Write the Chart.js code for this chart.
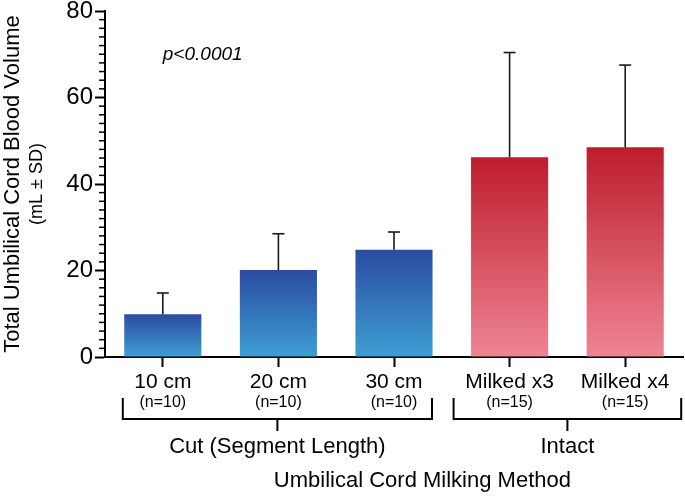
<!DOCTYPE html>
<html>
<head>
<meta charset="utf-8">
<script src="https://cdn.jsdelivr.net/npm/chart.js@4.4.1/dist/chart.umd.min.js"></script>
<style>
  html, body { margin: 0; padding: 0; background: #fff; }
  #wrap { width: 685px; height: 496px; position: relative; }
</style>
</head>
<body>
<div id="wrap"><canvas id="volume"></canvas></div>
<script>
// values
var categories = ['10 cm', '20 cm', '30 cm', 'Milked x3', 'Milked x4'];
var sampleSizes = ['(n=10)', '(n=10)', '(n=10)', '(n=15)', '(n=15)'];
var meanVolume = [9.9, 20.1, 24.8, 46.2, 48.5];
var sdVolume = [4.9, 8.4, 4.1, 24.2, 19.0];
var groupNames = ['Cut (Segment Length)', 'Intact'];
var groupFirst = [0, 3];
var groupLast = [2, 4];
var barGroup = [0, 0, 0, 1, 1];
var yMax = 80, yStep = 20, yMinorStep = 2;
var pValueText = 'p<0.0001';
var pValueAt = 70;

var FONT = "'Liberation Sans', Arial, Helvetica, sans-serif";
var gradColors = [['#2b4ba2', '#3d9fd3'], ['#bd1d2d', '#ef8593']];
// how far each bracket reaches past its outer category centres (px)
var bracketReach = [[40, 38], [56, 56]];

function barFill(context) {
    var chart = context.chart;
    if (!chart.chartArea || !chart.scales.y) return gradColors[barGroup[context.dataIndex]][0];
    var y = chart.scales.y;
    var top = y.getPixelForValue(context.raw);
    var bottom = y.getPixelForValue(0);
    var g = chart.ctx.createLinearGradient(0, top, 0, bottom);
    var c = gradColors[barGroup[context.dataIndex]];
    g.addColorStop(0, c[0]);
    g.addColorStop(1, c[1]);
    return g;
}

function line(ctx, x1, y1, x2, y2) {
    ctx.beginPath();
    ctx.moveTo(x1, y1);
    ctx.lineTo(x2, y2);
    ctx.stroke();
}

var extras = {
    id: 'extras',
    afterDatasetsDraw: function (chart) {
        var ctx = chart.ctx, y = chart.scales.y;
        var meta = chart.getDatasetMeta(0);
        ctx.save();
        ctx.strokeStyle = '#1a1a1a';
        ctx.lineWidth = 1.6;
        for (var i = 0; i < meta.data.length; i++) {
            var bar = meta.data[i];
            var top = y.getPixelForValue(meanVolume[i] + sdVolume[i]);
            line(ctx, bar.x, bar.y, bar.x, top);
            line(ctx, bar.x - 6, top, bar.x + 6, top);
        }
        ctx.restore();
    },
    afterDraw: function (chart) {
        var ctx = chart.ctx, x = chart.scales.x, y = chart.scales.y;
        var area = chart.chartArea;
        ctx.save();
        ctx.fillStyle = '#000';
        ctx.strokeStyle = '#000';

        // minor ticks on the y axis
        ctx.lineWidth = 1.5;
        for (var v = 0; v <= yMax; v += yMinorStep) {
            if (v % yStep === 0) continue;
            var py = y.getPixelForValue(v);
            line(ctx, area.left - 6, py, area.left, py);
        }

        // second line of the y title
        ctx.save();
        ctx.translate(37, (area.top + area.bottom) / 2);
        ctx.rotate(-Math.PI / 2);
        ctx.font = '18px ' + FONT;
        ctx.textAlign = 'center';
        ctx.textBaseline = 'middle';
        ctx.fillText('(mL \u00b1 SD)', 0, 0);
        ctx.restore();

        // p value
        ctx.font = 'italic 19px ' + FONT;
        ctx.textAlign = 'left';
        ctx.textBaseline = 'middle';
        ctx.fillText(pValueText, x.getPixelForValue(0), y.getPixelForValue(pValueAt));

        // sample sizes
        ctx.font = '16px ' + FONT;
        ctx.textAlign = 'center';
        for (var i = 0; i < categories.length; i++) {
            ctx.fillText(sampleSizes[i], x.getPixelForValue(i), area.bottom + 46);
        }

        // group brackets
        ctx.lineWidth = 2;
        var mids = [];
        for (var g = 0; g < groupNames.length; g++) {
            var l = x.getPixelForValue(groupFirst[g]) - bracketReach[g][0];
            var r = x.getPixelForValue(groupLast[g]) + bracketReach[g][1];
            var yTop = area.bottom + 41, yBot = area.bottom + 62;
            ctx.beginPath();
            ctx.moveTo(l, yTop);
            ctx.lineTo(l, yBot);
            ctx.lineTo(r, yBot);
            ctx.lineTo(r, yTop);
            ctx.stroke();
            var mid = (l + r) / 2;
            mids.push(mid);
            line(ctx, mid, yBot, mid, yBot + 12);
            ctx.font = '22px ' + FONT;
            ctx.fillText(groupNames[g], mid, area.bottom + 90);
        }

        // x axis title, centred between the two groups
        ctx.font = '22px ' + FONT;
        ctx.fillText('Umbilical Cord Milking Method', (mids[0] + mids[1]) / 2, area.bottom + 124);
        ctx.restore();
    }
};

var ctx = document.getElementById('volume');
var myChart = new Chart(ctx, {
    type: 'bar',
    data: {
        labels: categories,
        datasets: [{
            label: 'Total umbilical cord blood volume',
            data: meanVolume,
            backgroundColor: barFill,
            borderWidth: 0,
            barPercentage: 0.667,
            categoryPercentage: 1.0
        }]
    },
    options: {
        responsive: true,
        maintainAspectRatio: false,
        animation: false,
        devicePixelRatio: 1,
        layout: { padding: { top: 0, right: 2, left: 0, bottom: 0 } },
        plugins: {
            legend: { display: false },
            tooltip: { enabled: false }
        },
        scales: {
            x: {
                grid: {
                    offset: false,
                    drawOnChartArea: false,
                    tickLength: 10,
                    tickWidth: 2,
                    tickColor: '#000'
                },
                border: { color: '#000', width: 2 },
                ticks: {
                    color: '#000',
                    font: { family: FONT, size: 21 },
                    padding: 3,
                    autoSkip: false,
                    maxRotation: 0
                },
                afterFit: function (scale) {
                    scale.height = 139;
                }
            },
            y: {
                min: 0,
                max: yMax,
                grid: {
                    drawOnChartArea: false,
                    tickLength: 10,
                    tickWidth: 2,
                    tickColor: '#000'
                },
                border: { color: '#000', width: 2 },
                ticks: {
                    stepSize: yStep,
                    color: '#000',
                    padding: 2,
                    font: { family: FONT, size: 24, lineHeight: 1 }
                },
                title: {
                    display: true,
                    text: 'Total Umbilical Cord Blood Volume',
                    color: '#000',
                    font: { family: FONT, size: 22 },
                    padding: { top: 0, bottom: 0 }
                },
                afterFit: function (scale) {
                    scale.width = 105;
                    scale.paddingTop = 11;
                    scale.paddingBottom = 0;
                }
            }
        }
    },
    plugins: [extras]
});
</script>
</body>
</html>
